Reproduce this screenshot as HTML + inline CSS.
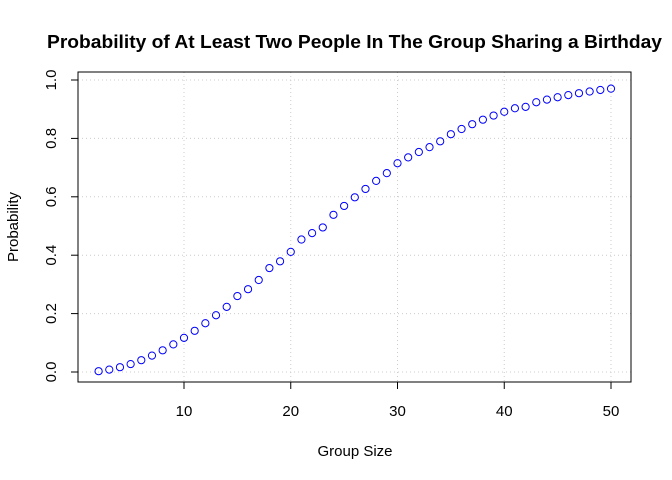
<!DOCTYPE html>
<html><head><meta charset="utf-8"><style>
body{margin:0;background:#fff}
svg{display:block;font-family:"Liberation Sans",Arial,sans-serif}
</style></head><body>
<svg id="c" width="672" height="480">
<text x="47" y="48" textLength="615" lengthAdjust="spacingAndGlyphs" font-size="18" font-weight="bold">Probability of At Least Two People In The Group Sharing a Birthday</text>
<g id="grid"></g>
<g id="axes"></g>
<g id="pts"></g>
<rect x="78" y="72" width="553" height="310" fill="none" stroke="#000"/>
<text x="355" y="456" text-anchor="middle" font-size="15">Group Size</text>
<text transform="translate(18,227) rotate(-90)" text-anchor="middle" font-size="15">Probability</text>
</svg>
<script>
const groupSizes=[2,3,4,5,6,7,8,9,10,11,12,13,14,15,16,17,18,19,20,21,22,23,24,25,26,27,28,29,30,31,32,33,34,35,36,37,38,39,40,41,42,43,44,45,46,47,48,49,50];
const probs=[0.0027,0.0082,0.0164,0.0271,0.0405,0.0562,0.0743,0.0946,0.1169,0.1411,0.1670,0.1944,0.2231,0.2600,0.2836,0.3150,0.3560,0.3791,0.4114,0.4537,0.4757,0.4950,0.5383,0.5687,0.5982,0.6269,0.6545,0.6810,0.7150,0.7350,0.7533,0.7700,0.7900,0.8144,0.8322,0.8487,0.8641,0.8782,0.8912,0.9032,0.9080,0.9239,0.9329,0.9410,0.9483,0.9548,0.9606,0.9658,0.9704];
const xTicks=[10,20,30,40,50];
const yTicks=[0,0.2,0.4,0.6,0.8,1.0];
const yTickLabels=["0.0","0.2","0.4","0.6","0.8","1.0"];
const NS="http://www.w3.org/2000/svg";
const X=v=>184+(v-10)*(611-184)/40;
const Y=v=>372-v*292;
function mk(tag,attrs,parent){const e=document.createElementNS(NS,tag);for(const k in attrs)e.setAttribute(k,attrs[k]);document.getElementById(parent).appendChild(e);return e;}
xTicks.forEach(t=>{
 const g=mk('line',{x1:X(t),x2:X(t),y1:72,y2:382,stroke:'#ccc','stroke-dasharray':'1,3'},'grid');
 
 
 const l=mk('line',{x1:X(t),x2:X(t),y1:382,y2:389,stroke:'#000'},'axes');
 
 
 const tx=mk('text',{x:X(t),y:416,'text-anchor':'middle','font-size':15},'axes');
 tx.textContent=t;
 
 
});
mk('line',{x1:X(10),x2:X(50),y1:382,y2:382,stroke:'#000'},'axes');
yTicks.forEach((t,i)=>{
 const g=mk('line',{x1:78,x2:631,y1:Y(t),y2:Y(t),stroke:'#ccc','stroke-dasharray':'1,3'},'grid');
 
 
 const l=mk('line',{x1:71,x2:78,y1:Y(t),y2:Y(t),stroke:'#000'},'axes');
 
 
 const tx=mk('text',{transform:`translate(56,${Y(t)}) rotate(-90)`,'text-anchor':'middle','font-size':15},'axes');
 tx.textContent=yTickLabels[i];
 
 
});
mk('line',{x1:78,x2:78,y1:Y(0),y2:Y(1),stroke:'#000'},'axes');
groupSizes.forEach((n,i)=>{
 const c=mk('circle',{cx:X(n),cy:Y(probs[i]),r:3.6,fill:'none',stroke:'#0000ff','stroke-width':1},'pts');
 
 
});
</script>
</body></html>
